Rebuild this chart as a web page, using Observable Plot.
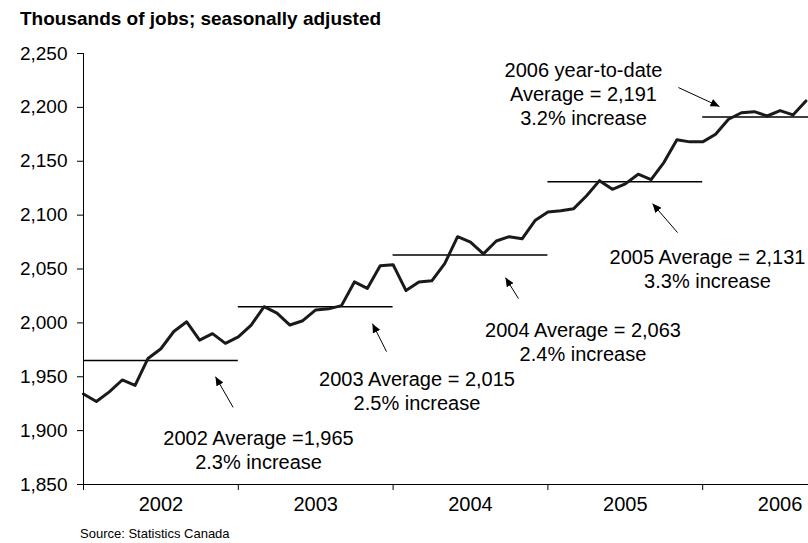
<!DOCTYPE html>
<html><head><meta charset="utf-8">
<script src="https://cdn.jsdelivr.net/npm/d3@7"></script>
<script src="https://cdn.jsdelivr.net/npm/@observablehq/plot@0.6"></script>
<style>
html,body{margin:0;padding:0;background:#fff;}
body{width:808px;height:543px;overflow:hidden;font-family:"Liberation Sans",Arial,sans-serif;color:#000;}
#title{height:30px;box-sizing:border-box;padding:7px 0 0 20px;font-weight:bold;font-size:19px;line-height:23px;white-space:nowrap;}
#source{padding-left:80px;font-size:13px;line-height:19px;height:19px;}
</style></head><body>
<div id="title">Thousands of jobs; seasonally adjusted</div>
<div id="chart"></div>
<div id="source">Source: Statistics Canada</div>
<script>
// ---- data (thousands of jobs, seasonally adjusted, monthly) ----
const years = [2002, 2003, 2004, 2005, 2006];
const jobs2002 = [1934, 1927, 1936, 1947, 1942, 1967, 1976, 1992, 2001, 1984, 1990, 1981];
const jobs2003 = [1987, 1998, 2015, 2009, 1998, 2002, 2012, 2013, 2016, 2038, 2032, 2053];
const jobs2004 = [2054, 2030, 2038, 2039, 2055, 2080, 2075, 2064, 2076, 2080, 2078, 2095];
const jobs2005 = [2103, 2104, 2106, 2118, 2132, 2124, 2129, 2138, 2133, 2149, 2170, 2168];
const jobs2006 = [2168, 2175, 2189, 2195, 2196, 2192, 2197, 2193, 2206];
const yearAverages = [1965, 2015, 2063, 2131, 2191];
const yTicks = [1850, 1900, 1950, 2000, 2050, 2100, 2150, 2200, 2250];
const yearLabels = ["2002", "2003", "2004", "2005", "2006"];
const annotationTexts = [
  "2002 Average =1,965\n2.3% increase",
  "2003 Average = 2,015\n2.5% increase",
  "2004 Average = 2,063\n2.4% increase",
  "2005 Average = 2,131\n3.3% increase",
  "2006 year-to-date\nAverage = 2,191\n3.2% increase"
];
// annotation anchors in data units (month index from Jan 2002, thousands of jobs)
const annotationMonth = [13.57, 25.85, 38.72, 48.37, 38.76];
const annotationValue = [1882.4, 1937.1, 1982.6, 2050.4, 2212.9];
const arrowFromMonth = [11.60, 23.49, 33.72, 46.05, 46.12];
const arrowFromValue = [1921.6, 1973.3, 2022.5, 2083.8, 2218.4];
const arrowToMonth = [10.23, 22.40, 32.71, 44.11, 49.30];
const arrowToValue = [1950.1, 1999.3, 2042.0, 2110.7, 2200.8];

// ---- build tables ----
const monthly = [...jobs2002, ...jobs2003, ...jobs2004, ...jobs2005, ...jobs2006]
  .map((value, i) => ({month: i, value}));
const averages = years.map((yr, i) => ({start: i * 12, end: (i + 1) * 12, avg: yearAverages[i]}));
const notes = annotationTexts.map((text, i) => ({text, x: annotationMonth[i], y: annotationValue[i]}));
const arrows = annotationTexts.map((_, i) => ({
  x1: arrowFromMonth[i], y1: arrowFromValue[i], x2: arrowToMonth[i], y2: arrowToValue[i]
}));
const yearStarts = years.map((_, i) => i * 12);
const yearMids = years.map((_, i) => i * 12 + 6);

function filledArrow(color) {
  const m = d3.create("svg:marker")
    .attr("viewBox", "-9 -4 9 8")
    .attr("markerWidth", 9).attr("markerHeight", 8)
    .attr("markerUnits", "userSpaceOnUse")
    .attr("orient", "auto")
    .attr("fill", color).attr("stroke", "none");
  m.append("path").attr("d", "M-9,-4L0,0L-9,4Z");
  return m.node();
}

const chart = Plot.plot({
  width: 808,
  height: 494,
  marginTop: 23,
  marginBottom: 40,
  marginLeft: 83,
  marginRight: 0,
  style: {fontFamily: '"Liberation Sans", Arial, sans-serif', fontSize: "19px", color: "#000", background: "#fff"},
  x: {domain: [0, 60], range: [83, 857]},
  y: {domain: [1850, 2250]},
  marks: [
    Plot.ruleY(averages, {x1: "start", x2: "end", y: "avg", stroke: "#000", strokeWidth: 1.5}),
    Plot.lineY(monthly, {x: "month", y: "value", stroke: "#1a1a1a", strokeWidth: 3}),
    Plot.text(notes, {x: "x", y: "y", text: "text", fontSize: 20, lineHeight: 1.2, textAnchor: "middle", lineAnchor: "middle", fill: "#000"}),
    Plot.link(arrows, {x1: "x1", y1: "y1", x2: "x2", y2: "y2", stroke: "#000", strokeWidth: 1, markerEnd: filledArrow}),
    Plot.axisY({ticks: yTicks, tickSize: 6, tickPadding: 10, tickFormat: d3.format(","), label: null, fontSize: 19}),
    Plot.axisX({ticks: yearStarts, tickSize: 6, tickFormat: () => "", label: null}),
    Plot.axisX({ticks: yearMids, tickSize: 0, tickPadding: 12, tickFormat: d => yearLabels[Math.floor(d / 12)], label: null, fontSize: 20}),
    Plot.ruleX([0], {stroke: "#000", strokeWidth: 1}),
    Plot.ruleY([1850], {stroke: "#000", strokeWidth: 1})
  ]
});
document.getElementById("chart").append(chart);
</script>
</body></html>
